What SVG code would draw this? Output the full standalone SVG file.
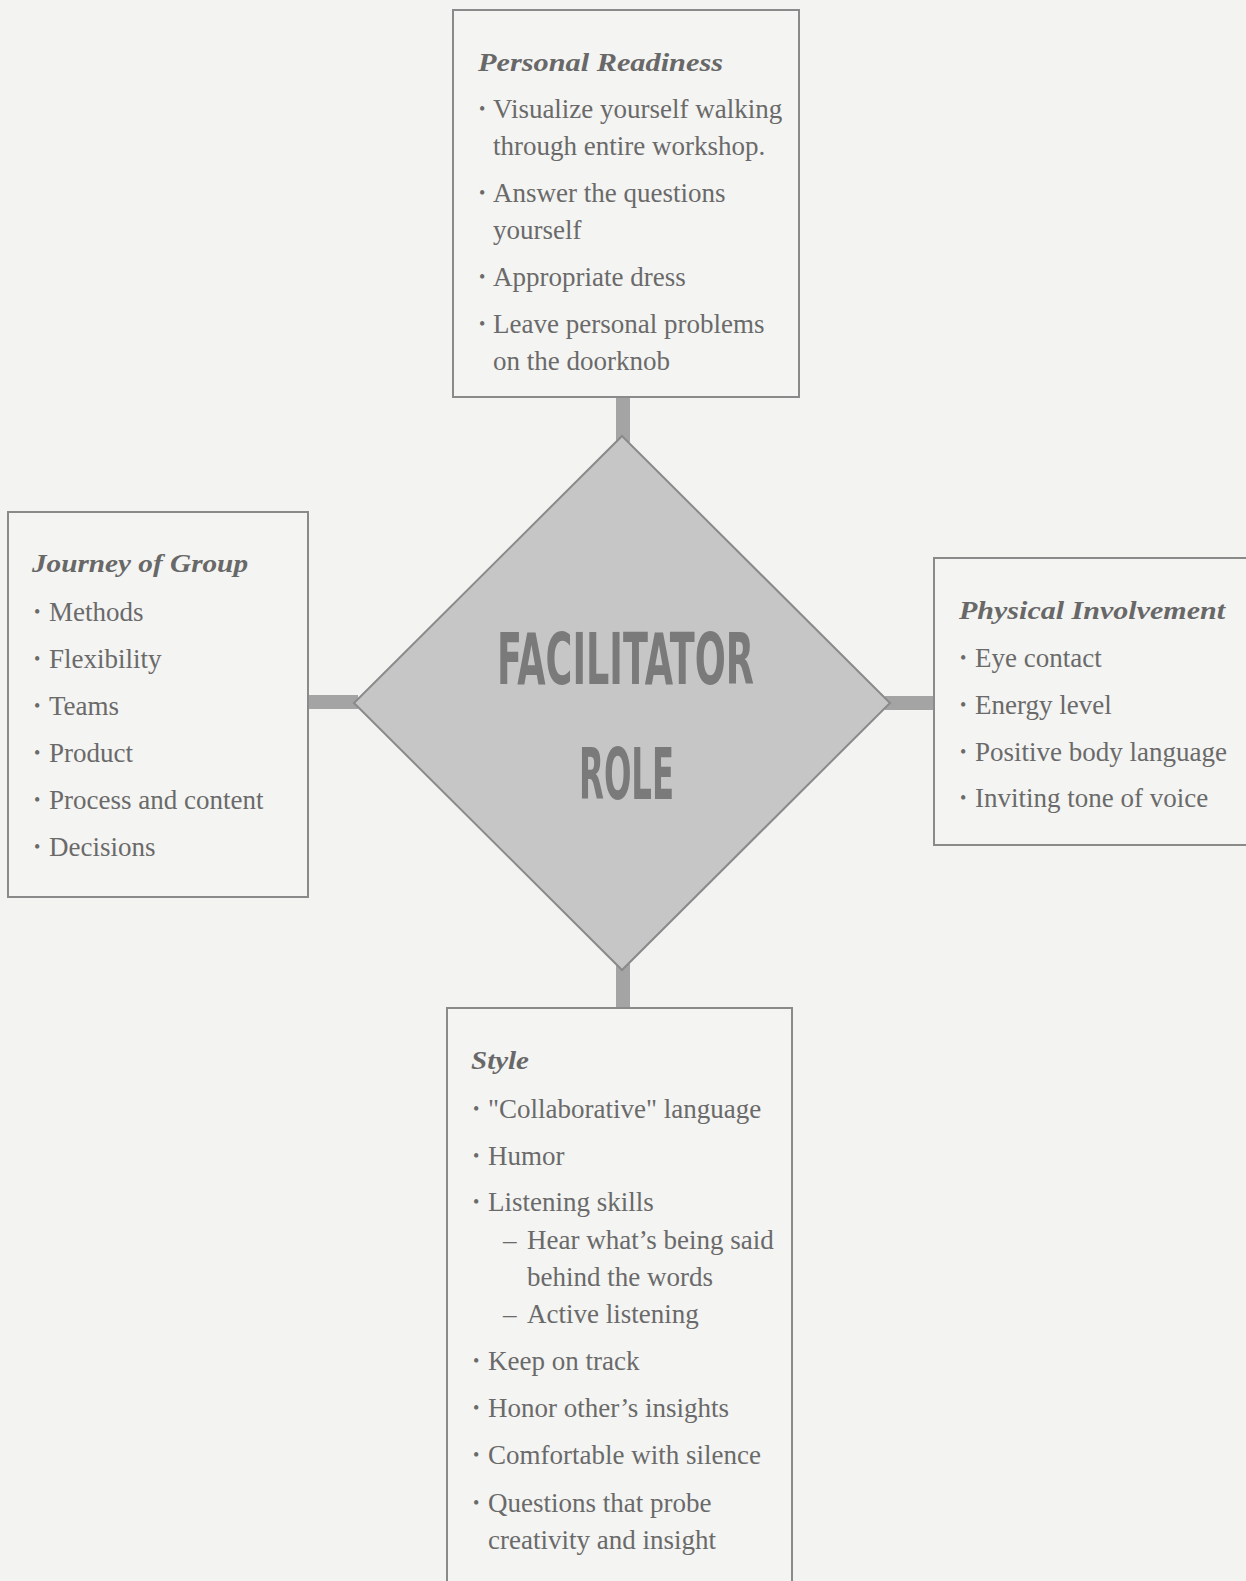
<svg xmlns="http://www.w3.org/2000/svg" width="1246" height="1581" viewBox="0 0 1246 1581">
  <style>
    .box { fill: #f4f4f2; stroke: #8a8a8a; stroke-width: 2; }
    .hub { fill: #c6c6c6; stroke: #8a8a8a; stroke-width: 2; }
    .bar { fill: #a4a4a4; }
    .head { font-family: "Liberation Serif", "DejaVu Serif", serif; font-style: italic; font-weight: bold; font-size: 25px; fill: #686868; }
    .item { font-family: "Liberation Serif", "DejaVu Serif", serif; font-size: 27px; fill: #6a6a6a; }
    .dot { font-size: 18px; }
    .title { font-family: "DejaVu Sans Condensed", "DejaVu Sans", sans-serif; font-weight: bold; font-size: 72px; fill: #7a7a7a; }
  </style>
  <rect x="0" y="0" width="1246" height="1581" fill="#f3f3f1"/>

  <!-- stems joining the central diamond to the four boxes -->
  <g id="connectors">
    <rect class="bar" x="616" y="396" width="14" height="46"/>
    <rect class="bar" x="616" y="964" width="14" height="46"/>
    <rect class="bar" x="306" y="695" width="52" height="14"/>
    <rect class="bar" x="885" y="696" width="51" height="14"/>
  </g>

  <g id="facilitator-role">
    <polygon class="hub" points="622,436 890,703 622,970 354,703"/>
    <text class="title" x="625.5" y="684" text-anchor="middle" textLength="257" lengthAdjust="spacingAndGlyphs">FACILITATOR</text>
    <text class="title" x="626.5" y="799" text-anchor="middle" textLength="95" lengthAdjust="spacingAndGlyphs">ROLE</text>
  </g>

  <g id="personal-readiness">
    <rect class="box" x="453" y="10" width="346" height="387"/>
    <text class="head" x="478" y="71" textLength="245" lengthAdjust="spacingAndGlyphs">Personal Readiness</text>
    <text class="item" x="479" y="118"><tspan class="dot" dy="-3">•</tspan><tspan x="493" dy="3">Visualize yourself walking</tspan></text>
    <text class="item" x="493" y="155">through entire workshop.</text>
    <text class="item" x="479" y="202"><tspan class="dot" dy="-3">•</tspan><tspan x="493" dy="3">Answer the questions</tspan></text>
    <text class="item" x="493" y="239">yourself</text>
    <text class="item" x="479" y="286"><tspan class="dot" dy="-3">•</tspan><tspan x="493" dy="3">Appropriate dress</tspan></text>
    <text class="item" x="479" y="333"><tspan class="dot" dy="-3">•</tspan><tspan x="493" dy="3">Leave personal problems</tspan></text>
    <text class="item" x="493" y="370">on the doorknob</text>
  </g>

  <g id="journey-of-group">
    <rect class="box" x="8" y="512" width="300" height="385"/>
    <text class="head" x="32" y="572" textLength="216" lengthAdjust="spacingAndGlyphs">Journey of Group</text>
    <text class="item" x="34" y="621"><tspan class="dot" dy="-3">•</tspan><tspan x="49" dy="3">Methods</tspan></text>
    <text class="item" x="34" y="668"><tspan class="dot" dy="-3">•</tspan><tspan x="49" dy="3">Flexibility</tspan></text>
    <text class="item" x="34" y="715"><tspan class="dot" dy="-3">•</tspan><tspan x="49" dy="3">Teams</tspan></text>
    <text class="item" x="34" y="762"><tspan class="dot" dy="-3">•</tspan><tspan x="49" dy="3">Product</tspan></text>
    <text class="item" x="34" y="809"><tspan class="dot" dy="-3">•</tspan><tspan x="49" dy="3">Process and content</tspan></text>
    <text class="item" x="34" y="856"><tspan class="dot" dy="-3">•</tspan><tspan x="49" dy="3">Decisions</tspan></text>
  </g>

  <g id="physical-involvement">
    <rect class="box" x="934" y="558" width="330" height="287"/>
    <text class="head" x="959" y="619" textLength="266" lengthAdjust="spacingAndGlyphs">Physical Involvement</text>
    <text class="item" x="960" y="667"><tspan class="dot" dy="-3">•</tspan><tspan x="975" dy="3">Eye contact</tspan></text>
    <text class="item" x="960" y="714"><tspan class="dot" dy="-3">•</tspan><tspan x="975" dy="3">Energy level</tspan></text>
    <text class="item" x="960" y="761"><tspan class="dot" dy="-3">•</tspan><tspan x="975" dy="3">Positive body language</tspan></text>
    <text class="item" x="960" y="807"><tspan class="dot" dy="-3">•</tspan><tspan x="975" dy="3">Inviting tone of voice</tspan></text>
  </g>

  <g id="style">
    <rect class="box" x="447" y="1008" width="345" height="600"/>
    <text class="head" x="471" y="1069" textLength="58" lengthAdjust="spacingAndGlyphs">Style</text>
    <text class="item" x="473" y="1118"><tspan class="dot" dy="-3">•</tspan><tspan x="488" dy="3">"Collaborative" language</tspan></text>
    <text class="item" x="473" y="1165"><tspan class="dot" dy="-3">•</tspan><tspan x="488" dy="3">Humor</tspan></text>
    <text class="item" x="473" y="1211"><tspan class="dot" dy="-3">•</tspan><tspan x="488" dy="3">Listening skills</tspan></text>
    <text class="item" x="503" y="1249">–<tspan x="527">Hear what’s being said</tspan></text>
    <text class="item" x="527" y="1286">behind the words</text>
    <text class="item" x="503" y="1323">–<tspan x="527">Active listening</tspan></text>
    <text class="item" x="473" y="1370"><tspan class="dot" dy="-3">•</tspan><tspan x="488" dy="3">Keep on track</tspan></text>
    <text class="item" x="473" y="1417"><tspan class="dot" dy="-3">•</tspan><tspan x="488" dy="3">Honor other’s insights</tspan></text>
    <text class="item" x="473" y="1464"><tspan class="dot" dy="-3">•</tspan><tspan x="488" dy="3">Comfortable with silence</tspan></text>
    <text class="item" x="473" y="1512"><tspan class="dot" dy="-3">•</tspan><tspan x="488" dy="3">Questions that probe</tspan></text>
    <text class="item" x="488" y="1549">creativity and insight</text>
  </g>
</svg>
